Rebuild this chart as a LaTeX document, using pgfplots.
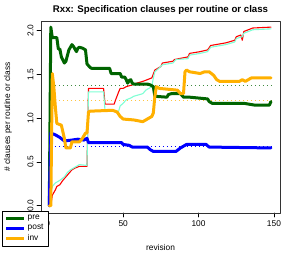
\documentclass[border=0pt]{standalone}
\usepackage{fontspec}
\setmainfont{Liberation Sans}
\usepackage{pgfplots}
\pgfplotsset{compat=1.18}
\definecolor{pre}{HTML}{006400}
\definecolor{post}{HTML}{0000FF}
\definecolor{inv}{HTML}{FFB000}
\definecolor{aqua}{HTML}{7FFFD4}
\begin{document}
\begin{tikzpicture}
\useasboundingbox (-41bp,-41bp) rectangle (253bp,213bp);
\begin{axis}[
  at={(0,0)}, anchor=south west,
  scale only axis, width=239bp, height=192bp,
  xmin=-4.5, xmax=154, ymin=-0.083, ymax=2.11,
  xtick={0,50,100,150}, ytick={0,0.5,1,1.5,2},
  xtick pos=bottom, ytick pos=left,
  tick align=outside, major tick length=4bp,
  tick style={black, line width=0.6bp},
  axis line style={black!80, line width=0.8bp},
  /pgf/number format/assume math mode=true,
  ticklabel style={font=\fontsize{8.4}{10}\selectfont},
  yticklabel style={rotate=90, anchor=south, /pgf/number format/fixed, /pgf/number format/fixed zerofill, /pgf/number format/precision=1},
  xlabel={revision}, ylabel={\# clauses per routine or class},
  label style={font=\fontsize{8.4}{10}\selectfont},
  xlabel style={at={(axis description cs:0.5,-0.182)}, anchor=center},
  ylabel style={at={(axis description cs:-0.138,0.5)}, anchor=center, rotate=0},
  title={Rxx: Specification clauses per routine or class},
  title style={at={(axis description cs:0.5,1.0256)}, anchor=center, font=\bfseries\fontsize{9.7}{11}\selectfont},
  line join=round, line cap=round,
  legend style={at={(-0.163,0.0104)}, anchor=north west, draw=black, fill=white,
    font=\fontsize{8.4}{9}\selectfont, inner xsep=2.5bp, inner ysep=2bp, row sep=-0.6bp,
    cells={anchor=west}},
  legend image code/.code={\draw[#1, line width=3bp] (0bp,0bp) -- (18bp,0bp);},
]
% means (dotted)
\addplot[pre!75, line width=0.9bp, dash pattern=on 0.8bp off 3.2bp, line cap=butt, forget plot] coordinates {(2,1.371)(148,1.371)};
\addplot[inv!75, line width=0.9bp, dash pattern=on 0.8bp off 3.2bp, line cap=butt, forget plot] coordinates {(2,1.20)(148,1.20)};
\addplot[post, line width=0.9bp, dash pattern=on 0.8bp off 3.2bp, line cap=butt, forget plot] coordinates {(2,0.679)(148,0.679)};
% red (thin)
\addplot[red, line width=1.1bp, forget plot] coordinates {
(2,0)(3,0.12)(5,0.18)(6,0.22)(8,0.24)(10,0.29)(12,0.33)(14,0.37)(16,0.41)(18,0.43)(21,0.45)(26,0.45)
(27,1.34)(37,1.34)(38,1.16)(44,1.16)(45,1.21)(47,1.30)(48,1.34)(50,1.34)(52,1.36)(56,1.38)(59,1.40)
(63,1.42)(66,1.44)(69,1.46)(71,1.55)(73,1.57)(75,1.59)(76,1.63)(83,1.65)(84,1.67)(93,1.70)(94,1.74)
(101,1.76)(106,1.78)(108,1.83)(118,1.86)(124,1.89)(125,1.93)(128,1.95)(129,1.89)(130,1.99)(136,2.03)(148,2.04)};
% aquamarine (thin)
\addplot[aqua, line width=1.1bp, forget plot] coordinates {
(1,0)(2,0.14)(3,0.22)(5,0.26)(8,0.29)(11,0.33)(13,0.38)(15,0.41)(19,0.45)(21,0.47)(26,0.46)
(27,1.30)(37,1.30)(38,1.08)(47,1.08)(48,1.14)(50,1.17)(52,1.21)(55,1.23)(57,1.25)(63,1.28)(65,1.32)
(69,1.36)(70,1.46)(71,1.53)(73,1.56)(76,1.61)(83,1.63)(85,1.67)(93,1.68)(94,1.72)(101,1.74)(106,1.76)
(108,1.81)(118,1.84)(124,1.87)(125,1.91)(129,1.93)(130,1.97)(136,2.01)(148,2.02)};
% pre
\addplot[pre, line width=3bp] coordinates {
(1,0)(2,2.04)(3,1.92)(6,1.92)(7,1.79)(8,1.79)(9,1.70)(11,1.63)(12,1.65)(14,1.78)(16,1.84)(17,1.82)
(19,1.76)(20,1.80)(21,1.81)(23,1.80)(25,1.78)(26,1.62)(28,1.58)(29,1.57)(41,1.57)(42,1.51)(48,1.51)
(49,1.47)(51,1.47)(52,1.44)(53,1.40)(54,1.43)(55,1.44)(56,1.40)(57,1.39)(66,1.39)(68,1.38)(70,1.36)
(71,1.25)(79,1.24)(80,1.27)(82,1.28)(88,1.28)(90,1.24)(94,1.24)(100,1.23)(106,1.22)(107,1.19)(109,1.17)
(130,1.17)(137,1.15)(147,1.15)(148,1.19)};
\addlegendentry{pre}
% post
\addplot[post, line width=3bp] coordinates {
(1,0)(2,0.83)(5,0.81)(8,0.78)(11,0.74)(16,0.75)(20,0.76)(24,0.75)(26,0.77)(27,0.72)(49,0.72)(50,0.70)
(54,0.69)(56,0.67)(66,0.67)(68,0.64)(70,0.62)(85,0.62)(88,0.66)(92,0.70)(105,0.70)(107,0.67)(148,0.66)};
\addlegendentry{post}
% inv
\addplot[inv, line width=3bp] coordinates {
(1,0)(2,0)(3,1.51)(4,1.36)(5,1.13)(6,0.94)(9,0.92)(11,0.77)(12,0.66)(15,0.66)(16,0.73)(21,0.73)
(23,0.77)(25,0.83)(26,0.83)(27,1.07)(28,1.08)(43,1.09)(46,1.07)(48,1.02)(50,0.99)(57,0.98)(63,0.96)
(65,0.98)(69,1.02)(70,1.06)(71,1.25)(72,1.36)(74,1.34)(86,1.32)(88,1.28)(90,1.28)(91,1.53)(92,1.55)
(94,1.53)(101,1.51)(104,1.53)(107,1.53)(110,1.49)(112,1.44)(114,1.42)(127,1.42)(129,1.44)(131,1.42)
(135,1.46)(148,1.46)};
\addlegendentry{inv}
\end{axis}
\end{tikzpicture}
\end{document}
